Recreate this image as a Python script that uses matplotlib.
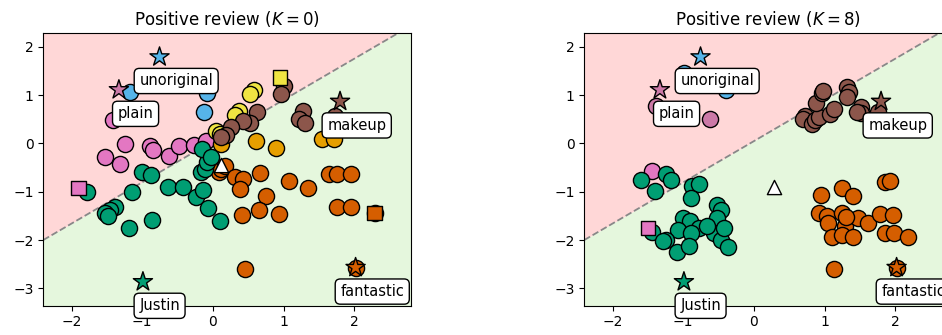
import matplotlib
matplotlib.use("Agg")
import matplotlib.pyplot as plt
import numpy as np

# ---------------- data ----------------
titles = ["Positive review ($K=0$)", "Positive review ($K=8$)"]

# anchor words (stars) - same in both panels
anchor_words = ["unoriginal", "plain", "makeup", "Justin", "fantastic"]
anchor_x = [-0.755, -1.33, 1.80, -0.99, 2.02]
anchor_y = [1.79, 1.11, 0.87, -2.865, -2.57]
anchor_cat = ["blue", "plum", "brown", "green", "vermillion"]

# decision boundary y = slope * x + intercept
boundary_slope = 0.853
boundary_intercept = 0.047

# query point (triangle)
query_x = [0.11, 0.28]
query_y = [-0.45, -0.90]

# ---- panel K=0 ----
k0_pink_x = [-1.42, -1.25, -1.53, -1.31, -0.89, -0.85, -0.62, -0.48, -0.26, -0.095]
k0_pink_y = [0.49, -0.01, -0.28, -0.42, -0.06, -0.145, -0.26, -0.06, -0.03, 0.06]
k0_blue_x = [-1.17, -0.09, -0.12]
k0_blue_y = [1.07, 1.04, 0.66]
k0_yellow_x = [0.58, 0.53, 0.37, 0.31, 0.05, 0.10]
k0_yellow_y = [1.11, 1.03, 0.68, 0.58, 0.25, 0.20]
k0_orange_x = [0.61, 0.89, 1.55, 1.72, 0.12]
k0_orange_y = [0.06, -0.10, 0.09, 0.10, -0.02]
k0_brown_x = [1.0, 0.97, 0.62, 0.52, 0.43, 0.25, 0.19, 0.11, 1.28, 1.22, 1.30, 1.73]
k0_brown_y = [1.18, 1.03, 0.66, 0.43, 0.46, 0.34, 0.18, 0.13, 0.68, 0.50, 0.42, 0.56]
k0_verm_x = [0.08, 0.11, 0.17, 0.31, 0.42, 0.39, 0.66, 0.75, 0.65, 0.41, 0.94, 1.08,
             1.34, 1.64, 1.75, 1.95, 1.76, 1.95, 2.29, 0.46, 2.02]
k0_verm_y = [-0.59, -0.52, -0.47, -0.70, -0.74, -0.95, -0.61, -1.08, -1.38, -1.48, -1.46, -0.78,
             -0.93, -0.64, -0.64, -0.64, -1.31, -1.31, -1.44, -2.60, -2.57]
k0_green_x = [-1.78, -1.01, -0.87, -1.14, -1.39, -1.46, -1.52, -1.48, -1.19, -0.86,
              -0.63, -0.42, -0.24, -0.14, -0.07, 0.10, -0.17, -0.11, -0.09, -0.15, -0.02]
k0_green_y = [-1.0, -0.59, -0.66, -1.0, -1.31, -1.38, -1.45, -1.50, -1.75, -1.59,
              -0.91, -0.91, -1.10, -0.96, -1.33, -1.61, -0.59, -0.52, -0.38, -0.12, -0.28]
k0_square_x = [-1.90, 0.95, 2.29]
k0_square_y = [-0.92, 1.37, -1.44]
k0_square_cat = ["pink", "yellow", "vermillion"]

# ---- panel K=8 ----
k8_plum_x = [-1.38, -0.62]
k8_plum_y = [0.77, 0.50]
k8_pink_x = [-1.44]
k8_pink_y = [-0.58]
k8_blue_x = [-0.99, -0.40]
k8_blue_y = [1.45, 1.11]
k8_brown_x = [0.72, 0.69, 0.82, 0.86, 0.92, 1.08, 1.13, 0.88, 0.96, 0.98, 1.32, 1.35,
              1.32, 1.51, 1.51, 1.46, 1.76]
k8_brown_y = [0.56, 0.50, 0.40, 0.49, 0.55, 0.60, 0.72, 0.83, 1.05, 1.09, 1.16, 1.06,
              0.97, 0.76, 0.62, 0.66, 0.66]
k8_verm_x = [1.86, 1.92, 1.25, 1.40, 0.95, 0.92, 1.03, 1.05, 1.25, 1.29, 1.10, 1.25,
             1.41, 1.48, 1.62, 1.79, 1.97, 1.86, 1.98, 2.18, 1.13, 1.31, 2.02]
k8_verm_y = [-0.79, -0.77, -0.93, -1.08, -1.06, -1.44, -1.51, -1.65, -1.44, -1.72, -1.94, -1.90,
             -1.94, -1.55, -1.65, -1.46, -1.48, -1.86, -1.86, -1.94, -2.60, -1.52, -2.57]
k8_green_x = [-1.60, -1.40, -1.25, -1.17, -0.88, -0.78, -0.89, -0.52, -0.46, -0.52,
              -1.00, -0.90, -0.78, -1.08, -0.89, -1.44, -1.25, -1.29, -1.09, -0.92,
              -0.56, -0.47, -0.36, -0.66, -0.42]
k8_green_y = [-0.75, -0.99, -0.63, -0.75, -0.88, -0.84, -1.13, -1.27, -1.37, -1.55,
              -1.55, -1.60, -1.75, -1.79, -1.86, -1.84, -2.00, -2.02, -2.24, -2.13,
              -1.86, -2.00, -2.15, -1.72, -1.75]
k8_square_x = [-1.50]
k8_square_y = [-1.75]
k8_square_cat = ["pink"]

# ---------------- style ----------------
colors = {
    "blue": "#56B4E9", "pink": "#E377C2", "plum": "#CC79A7", "yellow": "#F0E442",
    "orange": "#E69F00", "brown": "#8C564B", "vermillion": "#D55E00", "green": "#009E73",
}
region_pos = "#ffd7d7"
region_neg = "#e5f7dd"
XLIM = (-2.40, 2.80)
YLIM = (-3.36, 2.28)
CIRCLE_S = 135
SQUARE_S = 110
STAR_S = 210
TRI_S = 105

panels = [
    {
        "circles": [("pink", k0_pink_x, k0_pink_y), ("blue", k0_blue_x, k0_blue_y),
                    ("yellow", k0_yellow_x, k0_yellow_y), ("orange", k0_orange_x, k0_orange_y),
                    ("brown", k0_brown_x, k0_brown_y), ("vermillion", k0_verm_x, k0_verm_y),
                    ("green", k0_green_x, k0_green_y)],
        "squares": (k0_square_x, k0_square_y, k0_square_cat),
    },
    {
        "circles": [("plum", k8_plum_x, k8_plum_y), ("pink", k8_pink_x, k8_pink_y),
                    ("blue", k8_blue_x, k8_blue_y), ("brown", k8_brown_x, k8_brown_y),
                    ("vermillion", k8_verm_x, k8_verm_y), ("green", k8_green_x, k8_green_y)],
        "squares": (k8_square_x, k8_square_y, k8_square_cat),
    },
]

W, H = 942, 335
fig = plt.figure(figsize=(W / 100, H / 100), dpi=100)
ax_w = (410.7 - 43.3) / W
ax_h = (305.7 - 33.3) / H
ax_b = (H - 305.7) / H
lefts = [43.3 / W, 584.3 / W]

for i, panel in enumerate(panels):
    ax = fig.add_axes([lefts[i], ax_b, ax_w, ax_h])
    xs = np.linspace(XLIM[0], XLIM[1], 200)
    yb = boundary_slope * xs + boundary_intercept
    ax.fill_between(xs, yb, YLIM[1], color=region_pos, lw=0, zorder=0)
    ax.fill_between(xs, YLIM[0], yb, color=region_neg, lw=0, zorder=0)
    ax.plot(xs, yb, ls="--", color="#888888", lw=1.3, zorder=1)

    for cat, cx, cy in panel["circles"]:
        ax.scatter(cx, cy, s=CIRCLE_S, c=colors[cat], edgecolors="black",
                   linewidths=1.0, zorder=2)
    sx, sy, sc = panel["squares"]
    ax.scatter(sx, sy, s=SQUARE_S, marker="s", c=[colors[c] for c in sc],
               edgecolors="black", linewidths=1.0, zorder=3)
    ax.scatter([query_x[i]], [query_y[i]], s=TRI_S, marker="^", c="white",
               edgecolors="black", linewidths=1.0, zorder=4)
    ax.scatter(anchor_x, anchor_y, s=STAR_S, marker="*",
               c=[colors[c] for c in anchor_cat], edgecolors="black",
               linewidths=1.0, zorder=5)
    for w, x, y in zip(anchor_words, anchor_x, anchor_y):
        ax.annotate(w, (x, y), xytext=(12, -17.3), textcoords="offset points",
                    ha="center", va="center", fontsize=10.5, zorder=6,
                    bbox=dict(boxstyle="round,pad=0.35", fc="white", ec="black", lw=1.0))

    ax.set_xlim(XLIM)
    ax.set_ylim(YLIM)
    ax.set_xticks([-2, -1, 0, 1, 2])
    ax.set_yticks([-3, -2, -1, 0, 1, 2])
    ax.tick_params(labelsize=10)
    ax.set_title(titles[i], fontsize=12)

fig.savefig("out.png", dpi=100)
